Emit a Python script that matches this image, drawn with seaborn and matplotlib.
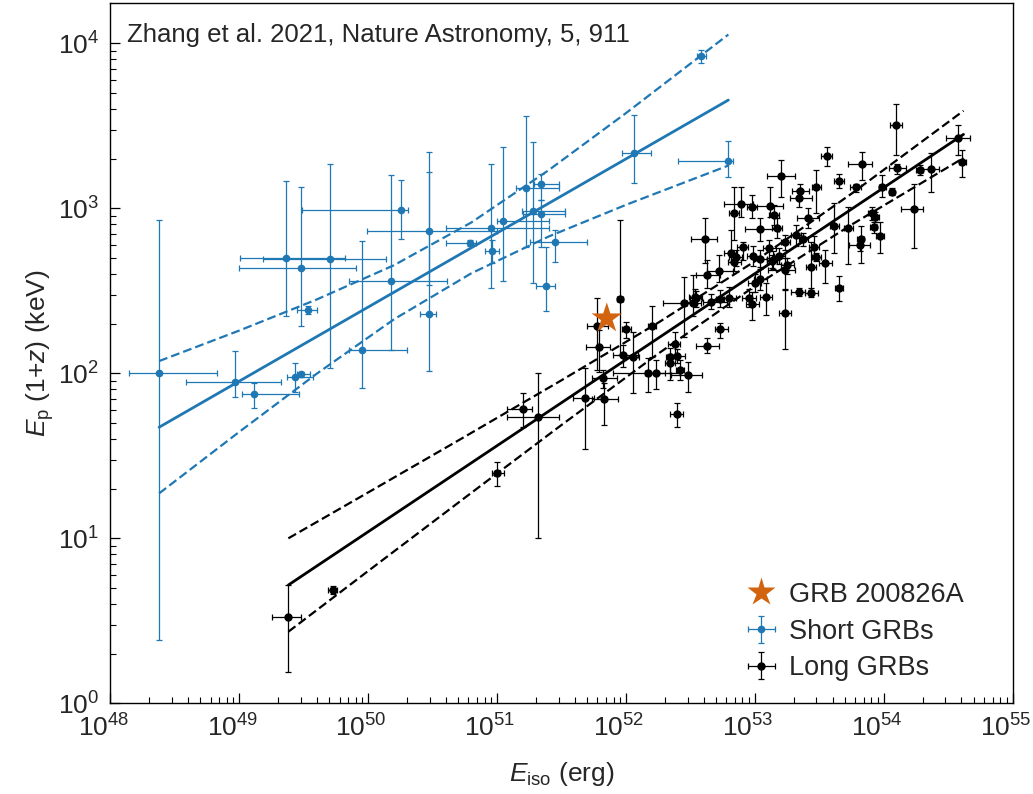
import numpy as np
import matplotlib
matplotlib.use("Agg")
import matplotlib.pyplot as plt
from matplotlib.lines import Line2D
from matplotlib.transforms import ScaledTranslation
import seaborn as sns

# ---------------- data (log10 values) ----------------
# Short GRBs: log10 E_iso [erg], bounds of x error bar, log10 Ep(1+z) [keV], bounds of y error bar
short_logE    = [48.378, 48.970, 49.117, 49.433, 49.482, 49.360, 49.707, 49.477, 49.531, 49.953,
                 50.175, 50.253, 50.475, 50.473, 50.790, 50.953, 50.961, 51.049, 51.225, 51.282,
                 51.341, 51.341, 51.448, 51.378, 52.065, 52.583, 52.794]
short_logE_lo = [48.147, 48.585, 49.020, 49.370, 49.450, 49.006, 49.187, 48.998, 49.446, 49.854,
                 49.850, 49.485, 49.994, 50.400, 50.600, 50.600, 50.910, 51.000, 51.147, 51.190,
                 51.290, 51.200, 51.255, 51.300, 51.967, 52.550, 52.406]
short_logE_hi = [48.830, 49.324, 49.460, 49.575, 49.550, 49.820, 50.140, 49.906, 49.606, 50.300,
                 50.610, 50.310, 51.000, 50.530, 50.837, 51.400, 51.018, 51.400, 51.483, 51.530,
                 51.480, 51.530, 51.697, 51.450, 52.195, 52.620, 52.830]
short_logEp   = [2.000, 1.949, 1.876, 1.980, 1.994, 2.699, 2.693, 2.638, 2.384, 2.141,
                 2.558, 2.988, 2.864, 2.357, 2.792, 2.881, 2.743, 2.925, 3.125, 2.985,
                 3.145, 2.965, 2.794, 2.531, 3.333, 3.923, 3.285]
short_logEp_lo = [0.384, 1.858, 1.790, 1.888, 1.980, 2.345, 2.034, 2.285, 2.360, 1.913,
                  2.141, 2.814, 2.537, 2.014, 2.770, 2.515, 2.667, 2.560, 2.767, 2.545,
                  3.050, 2.767, 2.676, 2.380, 3.152, 3.880, 3.190]
short_logEp_hi = [2.930, 2.137, 1.939, 2.064, 2.010, 3.166, 3.270, 3.131, 2.410, 2.804,
                  3.200, 3.170, 3.218, 3.343, 2.810, 3.267, 2.808, 3.373, 3.560, 3.404,
                  3.210, 3.050, 2.868, 2.767, 3.565, 3.960, 3.410]

# Long GRBs
long_logE = [49.381, 49.725, 50.998, 51.204, 51.320, 51.683, 51.825, 51.830, 51.773, 51.789,
             51.954, 52.000, 51.975, 52.053, 52.200, 52.174, 52.231, 52.342, 52.342, 52.380,
             52.399, 52.420, 52.480, 52.399, 52.451, 52.523, 52.544, 52.632, 52.725, 52.730,
             52.660, 52.800, 52.632, 52.733, 52.614, 52.841, 52.893, 52.980, 53.118, 53.149,
             53.170, 53.040, 52.906, 52.813, 52.854, 52.841, 52.988, 53.040, 53.112, 53.143,
             53.040, 53.000, 52.957, 52.978, 53.087, 53.203, 53.475, 53.351, 53.343, 53.651,
             53.415, 53.234, 53.320, 53.376, 53.459, 53.475, 53.434, 53.545, 53.615, 53.248,
             53.234, 53.190, 53.131, 53.343, 53.434, 53.234, 53.650, 52.536, 54.093, 54.579,
             54.610, 53.558, 53.830, 53.781, 54.101, 54.277, 54.365, 53.989, 54.062, 54.235,
             53.907, 53.933, 53.920, 53.971, 53.821, 53.816, 53.725]
long_logE_lo = [49.252, 49.690, 50.960, 51.080, 51.080, 51.590, 51.735, 51.735, 51.696, 51.688,
                51.930, 51.970, 51.900, 52.000, 52.170, 51.900, 52.150, 52.310, 52.300, 52.329,
                52.350, 52.390, 52.350, 52.340, 52.285, 52.470, 52.500, 52.545, 52.630, 52.700,
                52.600, 52.740, 52.540, 52.690, 52.503, 52.800, 52.760, 52.940, 52.960, 53.110,
                53.130, 52.920, 52.860, 52.760, 52.800, 52.790, 52.940, 52.990, 53.060, 53.090,
                52.990, 52.950, 52.900, 52.930, 53.040, 53.090, 53.440, 53.290, 53.270, 53.610,
                53.330, 53.200, 53.280, 53.340, 53.420, 53.440, 53.400, 53.500, 53.580, 53.200,
                53.100, 53.150, 53.090, 53.280, 53.390, 53.190, 53.620, 52.490, 54.050, 54.480,
                54.580, 53.510, 53.720, 53.740, 54.040, 54.250, 54.290, 53.960, 54.040, 54.130,
                53.880, 53.900, 53.890, 53.940, 53.790, 53.730, 53.690]
long_logE_hi = [49.477, 49.760, 51.050, 51.274, 51.480, 51.750, 51.930, 51.935, 51.863, 51.877,
                51.980, 52.040, 52.096, 52.100, 52.230, 52.420, 52.300, 52.380, 52.380, 52.420,
                52.460, 52.450, 52.593, 52.440, 52.549, 52.580, 52.590, 52.730, 52.833, 52.760,
                52.780, 52.850, 52.720, 52.790, 52.705, 52.880, 52.988, 53.020, 53.220, 53.190,
                53.210, 53.190, 52.950, 52.860, 52.900, 52.890, 53.040, 53.090, 53.160, 53.190,
                53.090, 53.050, 53.010, 53.030, 53.130, 53.310, 53.510, 53.420, 53.440, 53.690,
                53.500, 53.270, 53.360, 53.410, 53.500, 53.510, 53.470, 53.600, 53.650, 53.300,
                53.310, 53.230, 53.170, 53.390, 53.490, 53.280, 53.680, 52.580, 54.140, 54.668,
                54.640, 53.600, 53.910, 53.820, 54.170, 54.300, 54.430, 54.020, 54.080, 54.300,
                53.940, 53.960, 53.950, 54.000, 53.850, 53.890, 53.760]
long_logEp = [0.521, 0.687, 1.394, 1.784, 1.737, 1.848, 1.970, 1.844, 2.287, 2.161,
              2.448, 2.267, 2.111, 2.101, 2.289, 2.000, 2.000, 2.100, 2.064, 2.178,
              2.107, 2.020, 1.990, 1.752, 2.428, 2.424, 2.455, 2.596, 2.620, 2.448,
              2.434, 2.455, 2.165, 2.268, 2.812, 2.970, 3.026, 3.010, 3.014, 2.959,
              2.879, 2.873, 2.767, 2.731, 2.703, 2.676, 2.711, 2.691, 2.758, 2.687,
              2.572, 2.545, 2.455, 2.420, 2.461, 3.196, 3.127, 3.107, 3.061, 3.167,
              2.939, 2.798, 2.838, 2.812, 2.764, 2.703, 2.646, 2.671, 2.893, 2.656,
              2.626, 2.711, 2.682, 2.495, 2.489, 2.367, 2.515, 2.464, 3.505, 3.424,
              3.282, 3.319, 3.268, 3.127, 3.242, 3.232, 3.238, 3.127, 3.101, 2.996,
              2.974, 2.949, 2.885, 2.832, 2.812, 2.778, 2.879]
long_logEp_lo = [0.192, 0.660, 1.319, 1.676, 1.000, 1.539, 1.909, 1.687, 2.020, 2.010,
                 2.110, 2.212, 2.040, 1.879, 2.100, 1.888, 1.903, 1.960, 2.000, 2.100,
                 2.060, 1.960, 1.888, 1.676, 2.222, 2.350, 2.400, 2.515, 2.555, 2.404,
                 2.390, 2.404, 2.121, 2.212, 2.667, 2.808, 2.950, 2.939, 2.950, 2.900,
                 2.820, 2.800, 2.687, 2.676, 2.650, 2.620, 2.650, 2.630, 2.700, 2.630,
                 2.505, 2.490, 2.400, 2.323, 2.353, 3.070, 2.970, 3.060, 3.010, 3.120,
                 2.880, 2.750, 2.770, 2.770, 2.700, 2.680, 2.505, 2.550, 2.730, 2.600,
                 2.505, 2.660, 2.640, 2.470, 2.460, 2.145, 2.440, 2.420, 3.323, 3.323,
                 3.192, 3.256, 3.171, 3.100, 3.210, 3.200, 3.100, 3.070, 3.080, 2.758,
                 2.930, 2.920, 2.850, 2.730, 2.670, 2.740, 2.660]
long_logEp_hi = [0.717, 0.710, 1.464, 1.879, 2.000, 2.030, 2.020, 1.940, 2.455, 2.262,
                 2.929, 2.313, 2.172, 2.252, 2.408, 2.091, 2.080, 2.151, 2.120, 2.252,
                 2.150, 2.080, 2.070, 1.818, 2.585, 2.596, 2.500, 2.687, 2.717, 2.505,
                 2.480, 2.525, 2.212, 2.307, 2.939, 3.131, 3.131, 3.081, 3.131, 3.020,
                 2.940, 2.939, 2.798, 2.868, 2.750, 2.720, 2.770, 2.750, 2.810, 2.740,
                 2.646, 2.600, 2.510, 2.495, 2.545, 3.293, 3.233, 3.150, 3.110, 3.210,
                 3.000, 2.840, 2.900, 2.850, 2.835, 2.730, 2.797, 2.750, 3.030, 2.700,
                 2.700, 2.760, 2.720, 2.520, 2.520, 2.509, 2.590, 2.510, 3.633, 3.505,
                 3.353, 3.373, 3.343, 3.150, 3.270, 3.265, 3.333, 3.200, 3.120, 3.150,
                 3.010, 2.980, 2.920, 2.920, 2.890, 2.810, 3.010]

# GRB 200826A
grb_logE = [51.851]
grb_logEp = [2.333]

# best-fit lines and their dashed bands
short_fit_logE = [48.378, 52.794]
short_fit_logEp = [1.673, 3.656]
short_band_logE = [48.378, 49.0, 49.6, 50.2, 50.8, 51.4, 52.0, 52.794]
short_band_hi = [2.074, 2.259, 2.447, 2.655, 2.914, 3.231, 3.577, 4.053]
short_band_lo = [1.272, 1.645, 1.997, 2.327, 2.606, 2.829, 3.021, 3.259]

long_fit_logE = [49.381, 54.618]
long_fit_logEp = [0.717, 3.448]
long_band_logE = [49.381, 50.0, 50.75, 51.5, 52.25, 53.0, 53.75, 54.618]
long_band_hi = [1.000, 1.278, 1.616, 1.958, 2.307, 2.679, 3.089, 3.591]
long_band_lo = [0.434, 0.802, 1.246, 1.687, 2.119, 2.529, 2.901, 3.305]

# ---------------- style ----------------
sns.set_theme(style="ticks")
plt.rcParams["font.family"] = ["Liberation Sans", "DejaVu Sans"]
plt.rcParams["mathtext.fontset"] = "custom"
plt.rcParams["mathtext.rm"] = "Liberation Sans"
plt.rcParams["mathtext.it"] = "Liberation Sans:italic"
plt.rcParams["mathtext.bf"] = "Liberation Sans:bold"

BLUE = "#1f78b4"
ORANGE = "#d2640f"


def p(a):
    return 10 ** np.asarray(a, dtype=float)


def errs(v, lo, hi):
    v, lo, hi = p(v), p(lo), p(hi)
    return np.vstack([v - lo, hi - v])


fig = plt.figure(figsize=(10.33, 7.94), dpi=100)
ax = fig.add_axes([0.1068, 0.1142, 0.8736, 0.8824])
ax.set_xscale("log")
ax.set_yscale("log")

# fit lines
DASH = (0, (4, 1.8))
ax.plot(p(short_fit_logE), p(short_fit_logEp), color=BLUE, lw=2.0, zorder=3)
ax.plot(p(short_band_logE), p(short_band_hi), color=BLUE, lw=1.6, ls=DASH, zorder=3)
ax.plot(p(short_band_logE), p(short_band_lo), color=BLUE, lw=1.6, ls=DASH, zorder=3)
ax.plot(p(long_fit_logE), p(long_fit_logEp), color="black", lw=2.0, zorder=3)
ax.plot(p(long_band_logE), p(long_band_hi), color="black", lw=1.6, ls=DASH, zorder=3)
ax.plot(p(long_band_logE), p(long_band_lo), color="black", lw=1.6, ls=DASH, zorder=3)

# data with error bars
eb_short = ax.errorbar(p(short_logE), p(short_logEp),
                       xerr=errs(short_logE, short_logE_lo, short_logE_hi),
                       yerr=errs(short_logEp, short_logEp_lo, short_logEp_hi),
                       fmt="o", ms=4.5, color=BLUE, ecolor=BLUE, elinewidth=0.9,
                       capsize=2.5, capthick=0.9, zorder=4, label="Short GRBs")
eb_long = ax.errorbar(p(long_logE), p(long_logEp),
                      xerr=errs(long_logE, long_logE_lo, long_logE_hi),
                      yerr=errs(long_logEp, long_logEp_lo, long_logEp_hi),
                      fmt="o", ms=5, color="black", ecolor="black", elinewidth=0.9,
                      capsize=2.5, capthick=0.9, zorder=4, label="Long GRBs")

sns.scatterplot(x=p(grb_logE), y=p(grb_logEp), marker="*", s=23 ** 2, color=ORANGE,
                edgecolor="none", ax=ax, zorder=6, legend=False)

ax.set_xlim(1e48, 1e55)
ax.set_ylim(1, 10 ** 4.246)

ax.set_xlabel(r"$E_{\rm iso}$ (erg)", fontsize=19, labelpad=13)
ax.set_ylabel(r"$E_{\rm p}$ (1+$z$) (keV)", fontsize=19, labelpad=1)

ax.tick_params(axis="both", which="major", direction="in", length=7, width=0.9,
               labelsize=19, pad=8, top=False, right=False, color="black")
ax.tick_params(axis="both", which="minor", direction="in", length=4.5, width=0.8,
               top=False, right=False, color="black")
ax.xaxis.set_major_locator(matplotlib.ticker.FixedLocator(p([48, 49, 50, 51, 52, 53, 54, 55])))
ax.yaxis.set_major_locator(matplotlib.ticker.FixedLocator(p([0, 1, 2, 3, 4])))
ax.xaxis.set_major_formatter(matplotlib.ticker.LogFormatterSciNotation())
ax.yaxis.set_major_formatter(matplotlib.ticker.LogFormatterSciNotation())
ax.xaxis.set_minor_locator(matplotlib.ticker.LogLocator(base=10, subs=np.arange(2, 10), numticks=100))
ax.yaxis.set_minor_locator(matplotlib.ticker.LogLocator(base=10, subs=np.arange(2, 10), numticks=100))
ax.xaxis.set_minor_formatter(matplotlib.ticker.NullFormatter())
ax.yaxis.set_minor_formatter(matplotlib.ticker.NullFormatter())
for s in ax.spines.values():
    s.set_color("black")
    s.set_linewidth(1.0)

# x tick labels sit slightly left of their ticks in the reference
shift = ScaledTranslation(-7 / 100, 0, fig.dpi_scale_trans)
for lab in ax.get_xticklabels():
    lab.set_transform(lab.get_transform() + shift)

ax.text(0.0185, 0.971, "Zhang et al. 2021, Nature Astronomy, 5, 911",
        transform=ax.transAxes, ha="left", va="top", fontsize=18.5)

star_handle = Line2D([], [], marker="*", ls="none", ms=21, color=ORANGE, mec="none")
ax.legend([star_handle, eb_short, eb_long], ["GRB 200826A", "Short GRBs", "Long GRBs"],
          loc="upper left", bbox_to_anchor=(0.705, 0.1735), frameon=False,
          fontsize=19.5, borderpad=0, borderaxespad=0, handlelength=1.1,
          handletextpad=0.45, labelspacing=0.4)

fig.savefig("out.png", dpi=100)
